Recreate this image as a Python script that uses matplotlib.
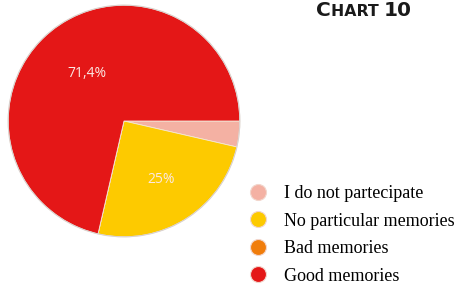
import matplotlib.pyplot as plt
import numpy as np
from matplotlib.lines import Line2D

# data (clockwise from 3 o'clock)
categories = ["I do not partecipate", "No particular memories", "Bad memories", "Good memories"]
values = [3.6, 25.0, 0.0, 71.4]
pct_labels = ["", "25%", "", "71,4%"]
colors = ["#f4b1a3", "#fdca00", "#f07d0c", "#e41717"]

fig = plt.figure(figsize=(4.55, 2.88), dpi=100)
ax = fig.add_axes([7 / 455, 50 / 288, 234 / 455, 234 / 288])

wedges, _ = ax.pie(values, colors=colors, startangle=0, counterclock=False,
                   radius=1, wedgeprops=dict(edgecolor="#f3e6d6", linewidth=0.6))
# faint outline round the pie
ax.add_patch(plt.Circle((0, 0), 1, fill=False, edgecolor="#d9d2d0", linewidth=0.8))
ax.set_xlim(-1.01, 1.01)
ax.set_ylim(-1.01, 1.01)
ax.set_aspect("equal")

# percentage labels inside the wedges
for w, lab in zip(wedges, pct_labels):
    if not lab:
        continue
    mid = np.deg2rad((w.theta1 + w.theta2) / 2)
    r = 0.52 if lab == "71,4%" else 0.6
    ax.text(r * np.cos(mid), r * np.sin(mid), lab, color="#fbe9e4", fontsize=10,
            family="Open Sans", ha="center", va="center")

# legend with round markers
handles = [Line2D([], [], linestyle="none", marker="o", markersize=11.5,
                  markerfacecolor=c, markeredgecolor="#f2d6cc", markeredgewidth=0.8)
           for c in colors]
fig.legend(handles, categories, loc="upper left", bbox_to_anchor=(240 / 455, 1 - 178 / 288),
           frameon=False, prop=dict(family="Liberation Serif", size=13),
           handletextpad=0.85, labelspacing=0.58, handlelength=1.2, borderaxespad=0)

# small-caps style title
ty = 1 - 16 / 288
t1 = fig.text(316 / 455, ty, "C", fontsize=14.5, fontweight="bold",
              family="DejaVu Sans", color="#1a1a1a", va="baseline")
t2 = fig.text(0, 0, "HART ", fontsize=11.3, fontweight="bold", family="DejaVu Sans",
              color="#1a1a1a", va="baseline")
t3 = fig.text(0, 0, "10", fontsize=14.5, fontweight="bold", family="DejaVu Sans",
              color="#1a1a1a", va="baseline")
fig.canvas.draw()
r = fig.canvas.get_renderer()
for prev, cur in [(t1, t2), (t2, t3)]:
    bb = prev.get_window_extent(r)
    cur.set_position((bb.x1 / fig.bbox.width, ty))

fig.savefig("out.png", dpi=100)
